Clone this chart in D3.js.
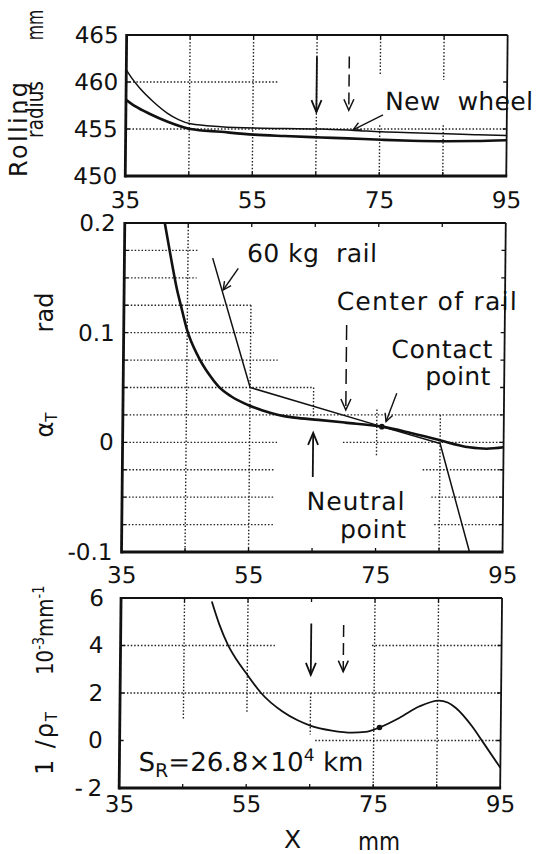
<!DOCTYPE html>
<html>
<head>
<meta charset="utf-8">
<script src="https://cdn.jsdelivr.net/npm/d3@7"></script>
<style>
  body { margin: 0; background: #fff; }
  svg { display: block; font-family: "DejaVu Sans", sans-serif; }
  .grid { stroke: #222; stroke-width: 1.4; stroke-dasharray: 1.5, 1.9; fill: none; }
  text { fill: #111; white-space: pre; }
</style>
</head>
<body>
<svg id="chart" width="537" height="854"></svg>
<script>
// position across the wheel tread, mm
var xDomain = [35, 95];
var xGrid = [35, 45, 55, 65, 75, 85, 95];
var xLabels = [35, 55, 75, 95];
var neutralPoint = 65;
var railCenter = 70.1;

// rolling radius, mm
var radiusTicks = [450, 455, 460, 465];
var newWheel = [[35, 461.3], [36, 460.3], [37.2, 459.3], [39.3, 457.9], [41.5, 456.7], [43.3, 456.0],
  [45.2, 455.55], [50, 455.25], [55.2, 455.1], [60, 455.05], [65.8, 455.0], [71, 454.85],
  [75.3, 454.7], [80, 454.6], [85.5, 454.5], [90, 454.4], [95, 454.3]];
var wornWheel = [[35, 458.1], [36.5, 457.4], [38.8, 456.6], [41.5, 455.8], [45.2, 455.0], [50, 454.7],
  [55.2, 454.4], [60, 454.25], [65.8, 454.1], [70, 454.0], [75.3, 453.85], [80, 453.75],
  [85.5, 453.7], [90, 453.72], [95, 453.8]];
var radiusGridH = [[460, 35, 58.8], [455, 35, 95]];
var radiusGridV = [[45, 450, 465], [55, 450, 465], [65, 450, 465], [75, 465, 460.8], [75, 455.4, 450],
  [85, 465, 460.2], [85, 455.4, 450]];

// contact angle alpha_T, rad
var alphaTicks = [0.2, 0.1, 0, -0.1];
var alphaMinor = [0.2, 0.175, 0.15, 0.125, 0.1, 0.075, 0.05, 0.025, 0, -0.025, -0.05, -0.075, -0.1];
var wheelAlpha = [[41.3, 0.2], [42.4, 0.166], [43.3, 0.14], [44.0, 0.124], [45.0, 0.102], [46.8, 0.078],
  [48.5, 0.062], [50, 0.051], [52, 0.042], [54.7, 0.034], [57, 0.029], [59.5, 0.025], [62, 0.0225],
  [65.8, 0.0205], [70, 0.018], [75.8, 0.0143], [80.2, 0.0088], [84.4, 0.0028], [89.6, -0.0045],
  [92.3, -0.0058], [95, -0.0045]];
var railAlpha = [[48.9, 0.168], [55, 0.05], [75.8, 0.0143], [85, -0.001], [89.8, -0.1]];
var alphaContact = [75.8, 0.0143];
var alphaGridH = [[0.175, 35, 46.6], [0.15, 35, 46.4], [0.125, 35, 55], [0.1, 35, 55.5], [0.075, 35, 59.3],
  [0.05, 35, 65], [0.025, 35, 95], [0, 35, 59.6], [0, 69.7, 95], [-0.025, 35, 59], [-0.025, 82.3, 95],
  [-0.05, 35, 59], [-0.05, 83.7, 95], [-0.075, 35, 59], [-0.075, 84.2, 95]];
var alphaGridV = [[45, 0.2, -0.1], [55, 0.125, -0.1], [65, 0.05, 0.022], [75, 0.03, -0.012], [85, 0.025, -0.1]];

// curvature 1/rho_T, 10^-3 mm^-1
var curvTicks = [6, 4, 2, 0, -2];
var wheelCurv = [[49.3, 5.85], [50.5, 4.9], [51.9, 4.03], [53.3, 3.4], [54.8, 2.84], [57.2, 2.0],
  [60.6, 1.22], [63, 0.85], [65.1, 0.62], [68.4, 0.42], [71.6, 0.33], [73.7, 0.36], [75.9, 0.55],
  [79.0, 0.95], [82.1, 1.43], [85.2, 1.68], [86.6, 1.6], [87.9, 1.37], [90.5, 0.59], [92.3, -0.1],
  [95, -1.15]];
var curvContact = [75.9, 0.55];
var curvGridH = [[4, 35, 59.3], [4, 74.6, 95], [2, 35, 95], [0, 65.8, 95]];
var curvGridV = [[45, 6, 0.9], [55, 6, 1.15], [65, 2, 0.25], [75, 6, -2], [85, 6, -2]];

var svg = d3.select('#chart');
// the scanned figure leans slightly to the left going down
var plot = svg.append('g').attr('transform', 'skewX(-0.57)');
var X_RANGE = [127, 508];

function panel(o) {
  var x = d3.scaleLinear().domain(xDomain).range(X_RANGE);
  var y = d3.scaleLinear().domain(o.yDomain).range(o.yRange);
  var g = plot.append('g');
  var y0 = o.yRange[0], y1 = o.yRange[1];

  g.selectAll('line.gh').data(o.gridH).enter().append('line')
    .attr('class', 'grid gh')
    .attr('x1', function(d) { return x(d[1]); })
    .attr('x2', function(d) { return x(d[2]); })
    .attr('y1', function(d) { return y(d[0]); })
    .attr('y2', function(d) { return y(d[0]); });
  g.selectAll('line.gv').data(o.gridV).enter().append('line')
    .attr('class', 'grid gv')
    .attr('x1', function(d) { return x(d[0]); })
    .attr('x2', function(d) { return x(d[0]); })
    .attr('y1', function(d) { return y(d[1]); })
    .attr('y2', function(d) { return y(d[2]); });

  // short inner ticks on all four sides
  var T = 4;
  xGrid.slice(1, -1).forEach(function(v) {
    g.append('line').attr('x1', x(v)).attr('x2', x(v)).attr('y1', y0).attr('y2', y0 - T).attr('stroke', '#111').attr('stroke-width', 1.3);
    g.append('line').attr('x1', x(v)).attr('x2', x(v)).attr('y1', y1).attr('y2', y1 + T).attr('stroke', '#111').attr('stroke-width', 1.3);
  });
  o.yMinor.forEach(function(v) {
    g.append('line').attr('x1', X_RANGE[0]).attr('x2', X_RANGE[0] + T).attr('y1', y(v)).attr('y2', y(v)).attr('stroke', '#111').attr('stroke-width', 1.3);
    g.append('line').attr('x1', X_RANGE[1]).attr('x2', X_RANGE[1] - T).attr('y1', y(v)).attr('y2', y(v)).attr('stroke', '#111').attr('stroke-width', 1.3);
  });

  var xa = g.append('g').attr('transform', 'translate(0,' + y0 + ')')
    .call(d3.axisBottom(x).tickValues(xLabels).tickSize(0).tickPadding(o.xPad).tickFormat(d3.format('d')));
  var ya = g.append('g').attr('transform', 'translate(' + X_RANGE[0] + ',0)')
    .call(d3.axisLeft(y).tickValues(o.yLabels).tickSize(0).tickPadding(o.yPad).tickFormat(o.fmt));
  [xa, ya].forEach(function(a) {
    a.select('.domain').remove();
    a.attr('font-family', null).attr('font-size', 23);
    a.selectAll('text').attr('fill', '#111');
  });

  // frame: left and bottom drawn heavier, as in the original
  g.append('line').attr('x1', X_RANGE[0]).attr('x2', X_RANGE[1]).attr('y1', y1).attr('y2', y1).attr('stroke', '#111').attr('stroke-width', 1.8);
  g.append('line').attr('x1', X_RANGE[1]).attr('x2', X_RANGE[1]).attr('y1', y1).attr('y2', y0).attr('stroke', '#111').attr('stroke-width', 1.8);
  g.append('line').attr('x1', X_RANGE[0]).attr('x2', X_RANGE[0]).attr('y1', y1 - 1).attr('y2', y0 + 1.4).attr('stroke', '#111').attr('stroke-width', 2.8);
  g.append('line').attr('x1', X_RANGE[0]).attr('x2', X_RANGE[1] + 1).attr('y1', y0).attr('y2', y0).attr('stroke', '#111').attr('stroke-width', 2.8);

  return { x: x, y: y, g: g };
}

function curve(p, data, width, smooth) {
  var line = d3.line()
    .x(function(d) { return p.x(d[0]); })
    .y(function(d) { return p.y(d[1]); })
    .curve(smooth ? d3.curveMonotoneX : d3.curveLinear);
  p.g.append('path').datum(data).attr('d', line)
    .attr('fill', 'none').attr('stroke', '#111').attr('stroke-width', width)
    .attr('stroke-linejoin', 'round');
}

function arrow(g, x1, y1, x2, y2, o) {
  var dx = x2 - x1, dy = y2 - y1, len = Math.sqrt(dx * dx + dy * dy);
  var ux = dx / len, uy = dy / len;
  var L = o.head, W = o.half;
  g.append('line').attr('x1', x1).attr('y1', y1).attr('x2', x2).attr('y2', y2)
    .attr('stroke', '#111').attr('stroke-width', o.width)
    .attr('stroke-dasharray', o.dash || null);
  g.append('path')
    .attr('d', 'M' + (x2 - ux * L - uy * W) + ',' + (y2 - uy * L + ux * W) + 'L' + x2 + ',' + y2 +
      'L' + (x2 - ux * L + uy * W) + ',' + (y2 - uy * L - ux * W))
    .attr('fill', 'none').attr('stroke', '#111').attr('stroke-width', o.width);
}

function label(g, txt, px, py, o) {
  var t = g.append('text').attr('x', px).attr('y', py)
    .attr('font-size', o.size || 25)
    .attr('text-anchor', o.anchor || 'start')
    .text(txt);
  if (o.len) t.attr('textLength', o.len).attr('lengthAdjust', 'spacing');
  return t;
}

// ---- top: rolling radius ----
var pTop = panel({
  yDomain: [450, 465], yRange: [176, 35], gridH: radiusGridH, gridV: radiusGridV,
  yMinor: radiusTicks.slice(1, -1), yLabels: radiusTicks, xPad: 16, yPad: 8, fmt: d3.format('d')
});
curve(pTop, newWheel, 1.5, true);
curve(pTop, wornWheel, 2.6, true);
arrow(pTop.g, pTop.x(neutralPoint), pTop.y(462.7), pTop.x(neutralPoint), pTop.y(456.8), { head: 12, half: 5, width: 1.8 });
arrow(pTop.g, pTop.x(railCenter), pTop.y(462.7), pTop.x(railCenter), pTop.y(457.0), { head: 11, half: 5, width: 1.5, dash: '12,6' });
label(pTop.g, 'New  wheel', pTop.x(75.8), pTop.y(457.0), { size: 25, len: 148 });
arrow(pTop.g, pTop.x(75.5), pTop.y(456.5), pTop.x(70.8), pTop.y(454.9), { head: 8, half: 4, width: 1.4 });

// ---- middle: contact angle ----
var pMid = panel({
  yDomain: [-0.1, 0.2], yRange: [552, 223], gridH: alphaGridH, gridV: alphaGridV,
  yMinor: alphaMinor.slice(1, -1), yLabels: alphaTicks, xPad: 15, yPad: 9,
  fmt: function(d) { return String(d); }
});
curve(pMid, wheelAlpha, 2.6, true);
curve(pMid, railAlpha, 1.5, false);
pMid.g.append('circle').attr('cx', pMid.x(alphaContact[0])).attr('cy', pMid.y(alphaContact[1])).attr('r', 2.8).attr('fill', '#111');
label(pMid.g, '60 kg  rail', pMid.x(54.3), pMid.y(0.1644), { size: 25, len: 130 });
arrow(pMid.g, pMid.x(52.95), pMid.y(0.1587), pMid.x(50.6), pMid.y(0.1389), { head: 8, half: 4, width: 1.4 });
label(pMid.g, 'Center of rail', pMid.x(68.5), pMid.y(0.1207), { size: 25, len: 180 });
arrow(pMid.g, pMid.x(railCenter), pMid.y(0.107), pMid.x(railCenter), pMid.y(0.0295), { head: 11, half: 5, width: 1.5, dash: '15,7' });
label(pMid.g, 'Contact', pMid.x(93.1), pMid.y(0.0767), { size: 25, anchor: 'end', len: 101 });
label(pMid.g, 'point', pMid.x(92.8), pMid.y(0.0523), { size: 25, anchor: 'end', len: 65 });
arrow(pMid.g, pMid.x(78.1), pMid.y(0.0448), pMid.x(76.45), pMid.y(0.0189), { head: 8, half: 4, width: 1.4 });
arrow(pMid.g, pMid.x(neutralPoint), pMid.y(-0.0315), pMid.x(neutralPoint), pMid.y(0.0086), { head: 12, half: 5, width: 1.8 });
label(pMid.g, 'Neutral', pMid.x(79.5), pMid.y(-0.0616), { size: 25, anchor: 'end', len: 98 });
label(pMid.g, 'point', pMid.x(79.8), pMid.y(-0.0871), { size: 25, anchor: 'end', len: 66 });

// ---- bottom: curvature ----
var pBot = panel({
  yDomain: [-2, 6], yRange: [788, 598], gridH: curvGridH, gridV: curvGridV,
  yMinor: curvTicks.slice(1, -1), yLabels: curvTicks, xPad: 8, yPad: 17,
  fmt: function(d) { return d < 0 ? '-\u2009' + (-d) : String(d); }
});
curve(pBot, wheelCurv, 1.8, true);
pBot.g.append('circle').attr('cx', pBot.x(curvContact[0])).attr('cy', pBot.y(curvContact[1])).attr('r', 2.8).attr('fill', '#111');
arrow(pBot.g, pBot.x(neutralPoint), pBot.y(4.93), pBot.x(neutralPoint), pBot.y(2.76), { head: 12, half: 5, width: 1.8 });
arrow(pBot.g, pBot.x(railCenter), pBot.y(4.86), pBot.x(railCenter), pBot.y(2.9), { head: 11, half: 5, width: 1.5, dash: '12,6' });
var sr = pBot.g.append('text').attr('x', pBot.x(38.0)).attr('y', pBot.y(-1.27)).attr('font-size', 26)
  .attr('textLength', 225).attr('lengthAdjust', 'spacing');
sr.append('tspan').text('S');
sr.append('tspan').attr('font-size', 19).attr('dy', 6).text('R');
sr.append('tspan').attr('dy', -6).text('=26.8\u00d710');
sr.append('tspan').attr('font-size', 17).attr('dy', -10).text('4');
sr.append('tspan').attr('dy', 10).text(' km');

// ---- axis titles (unskewed page coordinates) ----
// sx squeezes a title along its reading direction, the lettering is narrow there
function vtitle(px, py, anchor, sx) {
  return svg.append('text')
    .attr('transform', 'translate(' + px + ',' + py + ') rotate(-90) scale(' + (sx || 1) + ',1)')
    .attr('text-anchor', anchor).attr('font-size', 24);
}
vtitle(27, 129.5, 'middle').attr('textLength', 95).attr('lengthAdjust', 'spacing').text('Rolling');
vtitle(43, 109.5, 'middle', 0.8).attr('font-size', 23).text('radius');
vtitle(43, 25, 'middle', 0.68).attr('font-size', 23).text('mm');
vtitle(53, 312.5, 'middle').text('rad');
var at = vtitle(53, 425, 'middle');
at.append('tspan').text('\u03b1');
at.append('tspan').attr('font-size', 15).attr('dy', 4).text('T');
var un = vtitle(53, 675, 'start', 0.86).attr('font-size', 23);
un.append('tspan').text('10');
un.append('tspan').attr('font-size', 15).attr('dy', -9).text('-3');
un.append('tspan').attr('dy', 9).text('mm');
un.append('tspan').attr('font-size', 15).attr('dy', -9).text('-1');
var rh = vtitle(53, 775, 'start').attr('textLength', 63).attr('lengthAdjust', 'spacing');
rh.append('tspan').text('1 /\u03c1');
rh.append('tspan').attr('font-size', 15).attr('dy', 4).text('T');

svg.append('text').attr('x', 292.5).attr('y', 848).attr('text-anchor', 'middle').attr('font-size', 25).text('X');
svg.append('text').attr('transform', 'translate(379,850) scale(0.9,1)')
  .attr('text-anchor', 'middle').attr('font-size', 24).text('mm');
</script>
</body>
</html>
